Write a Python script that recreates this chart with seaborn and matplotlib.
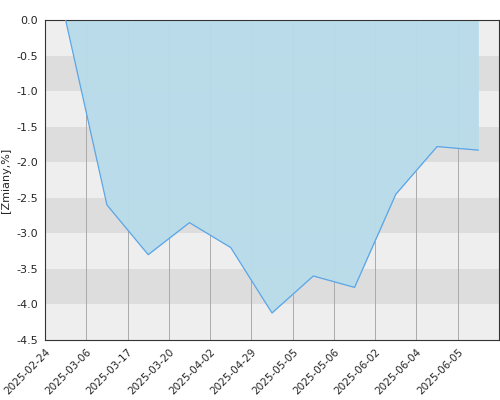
import matplotlib
matplotlib.use("Agg")
import matplotlib.pyplot as plt
import seaborn as sns
import numpy as np

tick_labels = ["2025-02-24","2025-03-06","2025-03-17","2025-03-20","2025-04-02","2025-04-29",
               "2025-05-05","2025-05-06","2025-06-02","2025-06-04","2025-06-05"]
values = [0.0, -2.6, -3.3, -2.85, -3.2, -4.12, -3.6, -3.76, -2.45, -1.78, -1.83]

sns.set_style("white")
plt.rcParams['font.family'] = ['DejaVu Sans']
fig = plt.figure(figsize=(5, 4), dpi=100)
ax = fig.add_axes([0.09, 0.15, 0.908, 0.80])

for i in range(9):
    lo, hi = -0.5 * (i + 1), -0.5 * i
    ax.axhspan(lo, hi, color="#dddddd" if i % 2 else "#eeeeee", zorder=0, lw=0)

xs = np.arange(len(values)) + 0.5
ax.fill_between(xs, values, 0, color="#b8dcea", alpha=0.95, zorder=2, lw=0)
sns.lineplot(x=xs, y=values, ax=ax, color="#5aa5e6", lw=0.9, zorder=3)

ax.set_xlim(0, 11)
ax.set_ylim(-4.5, 0)
ax.set_xticks(range(len(tick_labels)))
ax.set_xticklabels(tick_labels, rotation=45, ha="right", rotation_mode="anchor", fontsize=7.5)
ax.set_yticks(np.arange(-4.5, 0.01, 0.5))
ax.set_yticklabels([f"{v:.1f}" for v in np.arange(-4.5, 0.01, 0.5)], fontsize=8)
for t in range(1, len(tick_labels)):
    ax.axvline(t, color="#aaaaaa", lw=0.7, zorder=1.5)
ax.tick_params(axis="both", length=3, color="#333333", pad=2)
ax.set_ylabel("[Zmiany,%]", fontsize=8)
for s in ax.spines.values():
    s.set_color("#333333")
    s.set_linewidth(0.8)
fig.savefig("out.png", dpi=100)
